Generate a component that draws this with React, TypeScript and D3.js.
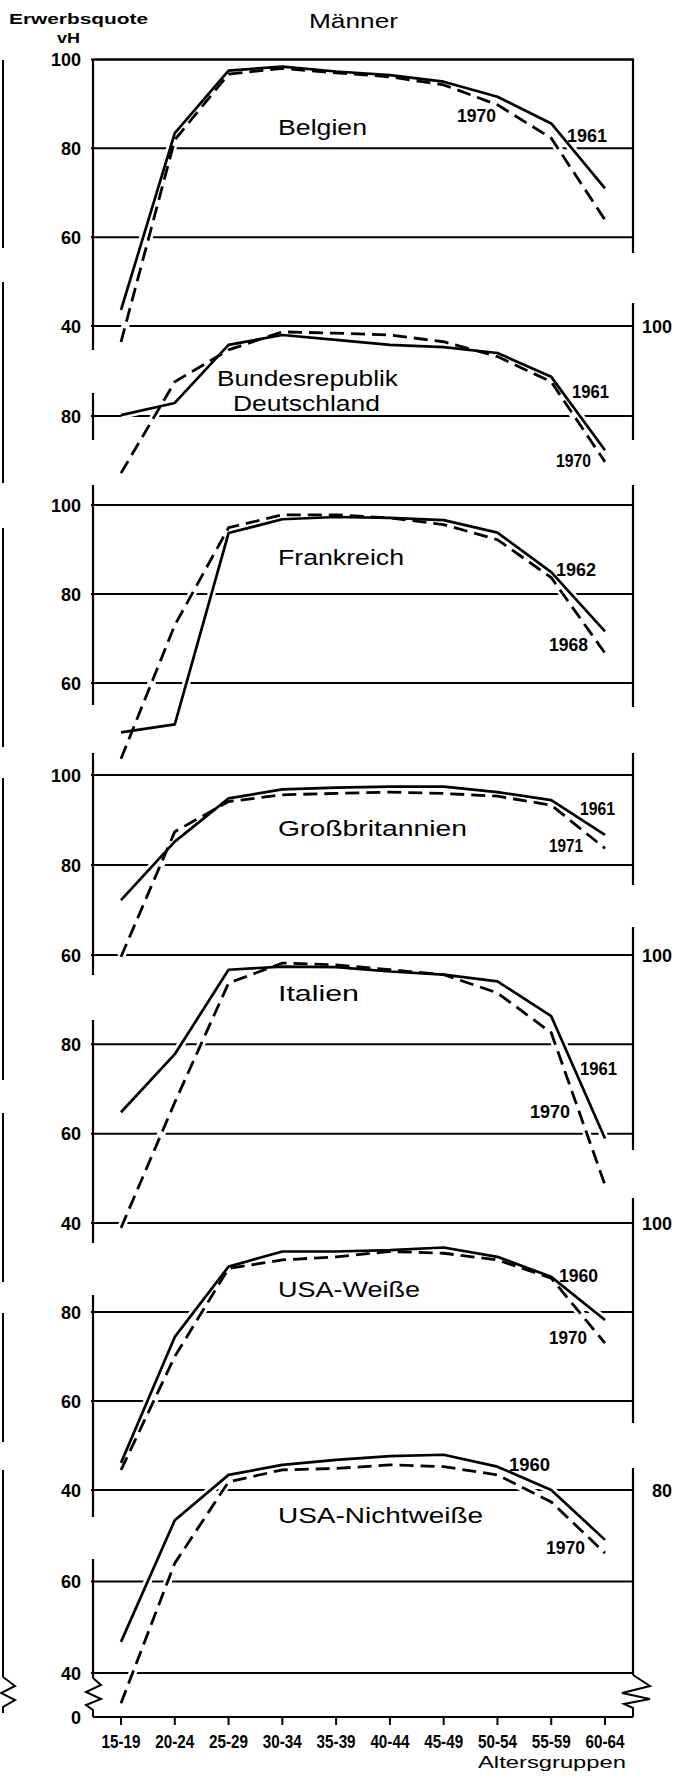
import React from "react";
import * as d3 from "d3";

// ---------- data (Erwerbsquote in vH, Männer) ----------
const AGES = ["15-19", "20-24", "25-29", "30-34", "35-39", "40-44", "45-49", "50-54", "55-59", "60-64"];

const BELGIEN_1961 = [43.6, 83.4, 97.5, 98.4, 97.3, 96.5, 95.0, 91.6, 85.6, 71.0];
const BELGIEN_1970 = [36.4, 81.9, 96.7, 98.0, 97.0, 96.1, 94.3, 89.8, 82.3, 63.9];

const BRD_1961 = [80.2, 82.9, 95.8, 98.0, 96.9, 95.8, 95.3, 94.0, 88.7, 72.4];
const BRD_1970 = [67.3, 87.6, 94.7, 98.7, 98.4, 98.0, 96.5, 93.2, 87.6, 69.8];

const FRANKREICH_1962 = [48.9, 50.7, 93.7, 96.8, 97.3, 97.1, 96.6, 93.8, 84.9, 71.6];
const FRANKREICH_1968 = [43.0, 73.0, 94.9, 97.8, 97.8, 97.1, 95.6, 92.2, 83.7, 66.7];

const GB_1961 = [72.2, 85.2, 94.8, 96.8, 97.2, 97.4, 97.4, 96.2, 94.4, 86.7];
const GB_1971 = [59.6, 87.4, 94.1, 95.6, 95.9, 96.2, 95.9, 95.3, 93.3, 83.7];

const ITALIEN_1961 = [64.8, 77.8, 96.7, 97.4, 97.3, 96.3, 95.6, 94.1, 86.3, 58.9];
const ITALIEN_1970 = [38.9, 67.0, 93.7, 98.2, 97.8, 96.7, 95.6, 91.5, 82.6, 48.5];

const USAW_1960 = [46.1, 74.4, 90.2, 93.6, 93.6, 93.9, 94.5, 92.4, 87.9, 78.2];
const USAW_1970 = [44.5, 70.0, 89.8, 91.7, 92.4, 93.6, 93.2, 91.7, 87.6, 73.0];

const USANW_1960 = [46.8, 73.4, 83.3, 85.5, 86.6, 87.4, 87.7, 85.1, 80.0, 69.1];
const USANW_1970 = [33.4, 64.0, 81.8, 84.4, 84.7, 85.5, 85.1, 83.3, 77.4, 66.2];

// ---------- layout ----------
const W = 683;
const H = 1786;
const FX0 = 93;
const FX1 = 633;
const FONT = "'Liberation Sans', Arial, sans-serif";

type Lbl = { t: string; x0: number; x1: number; b: number };
type Panel = {
  solid: number[];
  dashed: number[];
  domain: [number, number];
  range: [number, number];
  leftTicks: number[];
  rightTicks: number[];
  names: Lbl[];
  years: Lbl[];
};

const PANELS: Panel[] = [
  {
    solid: BELGIEN_1961, dashed: BELGIEN_1970,
    domain: [100, 40], range: [59.5, 326],
    leftTicks: [100, 80, 60, 40], rightTicks: [],
    names: [{ t: "Belgien", x0: 278, x1: 367, b: 135 }],
    years: [{ t: "1970", x0: 457, x1: 496, b: 122 }, { t: "1961", x0: 567, x1: 607, b: 142 }],
  },
  {
    solid: BRD_1961, dashed: BRD_1970,
    domain: [100, 80], range: [326, 416],
    leftTicks: [80], rightTicks: [100],
    names: [
      { t: "Bundesrepublik", x0: 217, x1: 398, b: 386 },
      { t: "Deutschland", x0: 233, x1: 380, b: 411 },
    ],
    years: [{ t: "1961", x0: 572, x1: 609, b: 398 }, { t: "1970", x0: 556, x1: 591, b: 467 }],
  },
  {
    solid: FRANKREICH_1962, dashed: FRANKREICH_1968,
    domain: [100, 60], range: [505, 683],
    leftTicks: [100, 80, 60], rightTicks: [],
    names: [{ t: "Frankreich", x0: 278, x1: 404, b: 565 }],
    years: [{ t: "1962", x0: 556, x1: 596, b: 576 }, { t: "1968", x0: 549, x1: 588, b: 651 }],
  },
  {
    solid: GB_1961, dashed: GB_1971,
    domain: [100, 60], range: [775, 955],
    leftTicks: [100, 80, 60], rightTicks: [],
    names: [{ t: "Großbritannien", x0: 278, x1: 467, b: 836 }],
    years: [{ t: "1961", x0: 580, x1: 615, b: 815 }, { t: "1971", x0: 549, x1: 583, b: 852 }],
  },
  {
    solid: ITALIEN_1961, dashed: ITALIEN_1970,
    domain: [100, 40], range: [955, 1223],
    leftTicks: [80, 60, 40], rightTicks: [100],
    names: [{ t: "Italien", x0: 278, x1: 359, b: 1001 }],
    years: [{ t: "1961", x0: 580, x1: 617, b: 1075 }, { t: "1970", x0: 530, x1: 570, b: 1118 }],
  },
  {
    solid: USAW_1960, dashed: USAW_1970,
    domain: [100, 40], range: [1223, 1490],
    leftTicks: [80, 60, 40], rightTicks: [100],
    names: [{ t: "USA-Weiße", x0: 278, x1: 420, b: 1297 }],
    years: [{ t: "1960", x0: 559, x1: 598, b: 1282 }, { t: "1970", x0: 549, x1: 587, b: 1344 }],
  },
  {
    solid: USANW_1960, dashed: USANW_1970,
    domain: [80, 40], range: [1490, 1673],
    leftTicks: [60, 40], rightTicks: [80],
    names: [{ t: "USA-Nichtweiße", x0: 278, x1: 483, b: 1523 }],
    years: [{ t: "1960", x0: 509, x1: 550, b: 1471 }, { t: "1970", x0: 546, x1: 585, b: 1554 }],
  },
];

const LEFT_FRAME: [number, number][] = [
  [59, 350], [393, 440], [485, 705], [753, 975], [1020, 1243], [1295, 1517], [1559, 1678],
];
const RIGHT_FRAME: [number, number][] = [
  [59, 253], [303, 440], [485, 707], [753, 885], [927, 1150], [1198, 1423], [1468, 1675],
];
const EDGE_BARS: [number, number][] = [
  [60, 248], [282, 483], [528, 747], [778, 1080], [1113, 1282], [1313, 1442], [1470, 1677],
];

const BOTTOM = 1717;

function Txt({ l, size, weight }: { l: Lbl; size: number; weight?: string | number }) {
  return (
    <text
      x={l.x0}
      y={l.b}
      textLength={l.x1 - l.x0}
      lengthAdjust="spacingAndGlyphs"
      fontSize={size}
      fontWeight={weight || "normal"}
      fontFamily={FONT}
      fill="#000"
    >
      {l.t}
    </text>
  );
}

export default function App() {
  const x = d3.scalePoint<string>().domain(AGES).range([121, 605]);

  const halos: JSX.Element[] = [];
  const lines: JSX.Element[] = [];
  const grids: JSX.Element[] = [];
  const texts: JSX.Element[] = [];

  PANELS.forEach((p, pi) => {
    const y = d3.scaleLinear().domain(p.domain).range(p.range);
    const line = d3
      .line<number>()
      .x((_, i) => x(AGES[i]) as number)
      .y((v) => y(v));
    const ds = line(p.solid) || "";
    const dd = line(p.dashed) || "";
    halos.push(
      <path key={`hs${pi}`} d={ds} fill="none" stroke="#fff" strokeWidth={8} strokeLinejoin="round" />,
      <path key={`hd${pi}`} d={dd} fill="none" stroke="#fff" strokeWidth={8} strokeLinejoin="round" />
    );
    lines.push(
      <path key={`s${pi}`} d={ds} fill="none" stroke="#000" strokeWidth={2.7} strokeLinejoin="round" />,
      <path key={`d${pi}`} d={dd} fill="none" stroke="#000" strokeWidth={2.8} strokeDasharray="14,7" />
    );
    const all = Array.from(new Set([...p.leftTicks, ...p.rightTicks]));
    all.forEach((v) => {
      grids.push(
        <line key={`g${pi}-${v}`} x1={FX0 - 2} x2={FX1 + 1} y1={y(v)} y2={y(v)} stroke="#000" strokeWidth={2} />
      );
    });
    p.leftTicks.forEach((v) => {
      texts.push(
        <text key={`lt${pi}-${v}`} x={81} y={y(v) + 6.5} textAnchor="end" fontSize={18} fontWeight="bold" fontFamily={FONT}>
          {v}
        </text>
      );
    });
    p.rightTicks.forEach((v) => {
      texts.push(
        <text key={`rt${pi}-${v}`} x={672} y={y(v) + 6.5} textAnchor="end" fontSize={18} fontWeight="bold" fontFamily={FONT}>
          {v}
        </text>
      );
    });
    p.names.forEach((n, i) => texts.push(<Txt key={`n${pi}-${i}`} l={n} size={22} />));
    p.years.forEach((n, i) => texts.push(<Txt key={`y${pi}-${i}`} l={n} size={18} weight="bold" />));
  });

  const leftZig = `M${FX0},1678 L101,1685 L86,1692 L101,1699 L86,1705 L${FX0},1710 L${FX0},${BOTTOM}`;
  const rightZig = `M${FX1},1675 L650,1686 L622,1693 L650,1699 L624,1704 L${FX1},1708 L${FX1},${BOTTOM}`;
  const edgeZig = `M3,1677 L15,1686 L1,1693 L15,1700 L3,1707 L3,1713`;

  return (
    <div style={{ position: "absolute", left: 0, top: 0, width: W, height: H, background: "#fff" }}>
      <svg width={W} height={H} viewBox={`0 0 ${W} ${H}`} style={{ display: "block" }}>
        <rect x={0} y={0} width={W} height={H} fill="#fff" />
        {/* header */}
        <Txt l={{ t: "Erwerbsquote", x0: 9, x1: 148, b: 24 }} size={15} weight="bold" />
        <Txt l={{ t: "vH", x0: 57, x1: 80, b: 43 }} size={15} weight="bold" />
        <Txt l={{ t: "Männer", x0: 309, x1: 398, b: 28 }} size={21} />

        {/* remnants of neighbouring figure at left edge */}
        {EDGE_BARS.map(([a, b], i) => (
          <line key={`e${i}`} x1={3} x2={3} y1={a} y2={b} stroke="#000" strokeWidth={2} />
        ))}
        <path d={edgeZig} fill="none" stroke="#000" strokeWidth={2} />

        {/* gridlines */}
        {grids}
        {/* frame */}
        {LEFT_FRAME.map(([a, b], i) => (
          <line key={`lf${i}`} x1={FX0} x2={FX0} y1={a} y2={b} stroke="#000" strokeWidth={2.2} />
        ))}
        {RIGHT_FRAME.map(([a, b], i) => (
          <line key={`rf${i}`} x1={FX1} x2={FX1} y1={a} y2={b} stroke="#000" strokeWidth={2.2} />
        ))}
        <path d={leftZig} fill="none" stroke="#000" strokeWidth={2} />
        <path d={rightZig} fill="none" stroke="#000" strokeWidth={2} />
        <line x1={FX0} x2={FX1} y1={BOTTOM} y2={BOTTOM} stroke="#000" strokeWidth={2.2} />
        <line x1={FX0} x2={FX1 + 1} y1={59.5} y2={59.5} stroke="#000" strokeWidth={2.2} />

        {/* x axis ticks & labels */}
        {AGES.map((a) => (
          <g key={`xa${a}`}>
            <line x1={x(a)} x2={x(a)} y1={BOTTOM} y2={BOTTOM + 8} stroke="#000" strokeWidth={2} />
            <text
              x={(x(a) as number) - 19.5}
              y={1748}
              textLength={39}
              lengthAdjust="spacingAndGlyphs"
              fontSize={19}
              fontWeight="bold"
              fontFamily={FONT}
            >
              {a}
            </text>
          </g>
        ))}
        <text x={81} y={BOTTOM + 6.5} textAnchor="end" fontSize={18} fontWeight="bold" fontFamily={FONT}>
          0
        </text>
        <Txt l={{ t: "Altersgruppen", x0: 478, x1: 626, b: 1768 }} size={17} />

        {/* data lines */}
        {halos}
        {lines}
        {texts}
      </svg>
    </div>
  );
}
